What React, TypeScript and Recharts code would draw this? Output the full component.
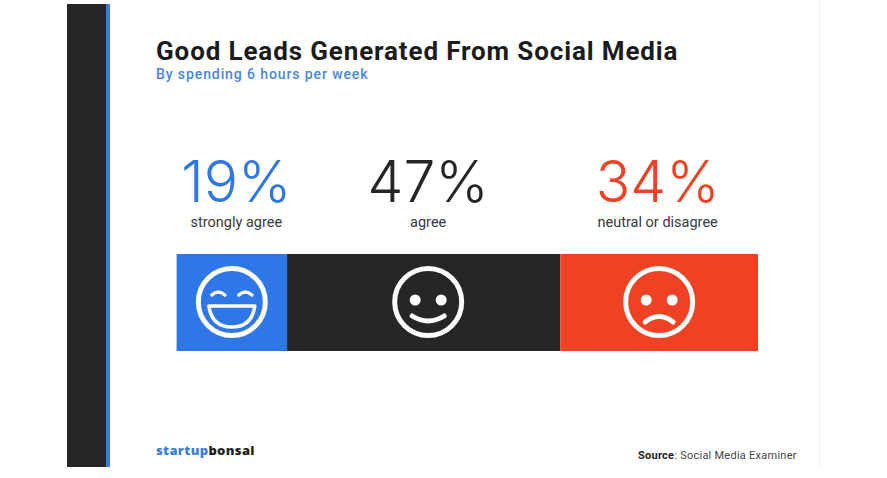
import React from 'react';
import { BarChart, Bar, XAxis, YAxis, LabelList } from 'recharts';

const categories = ['Good leads'];
const seriesKeys = ['strongly', 'agree', 'neutral'];
const seriesNames = ['strongly agree', 'agree', 'neutral or disagree'];
const seriesValues = [19, 47, 34];
const seriesColors = ['#2f77e6', '#262626', '#ef4123'];
const percentColors = ['#2f77e6', '#262626', '#ef4123'];
const moods = ['laugh', 'smile', 'sad'];

// the labels in the picture do not sit quite at the centre of their segment
const labelShift = [4.5, 4.5, -1.5];
const faceShift = [0, 4.5, 0];

const chartData = categories.map(name => {
  const row: Record<string, string | number> = { name };
  seriesKeys.forEach((key, i) => {
    row[key] = seriesValues[i];
  });
  return row;
});

const Face = ({ cx, cy, mood }: { cx: number; cy: number; mood: string }) => (
  <g transform={`translate(${cx},${cy})`} fill="none" stroke="#fbfbfb" strokeWidth={5} strokeLinecap="round">
    <circle r={33.5} />
    {mood === 'laugh' && (
      <>
        <path d="M-20 -7 Q-13.5 -13 -7 -7" strokeWidth={3.5} />
        <path d="M7 -7 Q13.5 -13 20 -7" strokeWidth={3.5} />
        <path d="M-23 4 H23 Q20 25 0 25 Q-20 25 -23 4 Z" strokeWidth={3.5} strokeLinejoin="round" />
      </>
    )}
    {mood !== 'laugh' && (
      <>
        <circle cx={-13} cy={-2} r={5.5} fill="#fbfbfb" stroke="none" />
        <circle cx={13} cy={-2} r={5.5} fill="#fbfbfb" stroke="none" />
      </>
    )}
    {mood === 'smile' && <path d="M-16 14 Q0 24 16 14" />}
    {mood === 'sad' && <path d="M-14 20 Q0 9 14 20" />}
  </g>
);

const makeSegmentLabel = (index: number) => (props: any) => {
  const { x, y, width, height } = props;
  const mid = x + width / 2;
  const textX = mid + labelShift[index];
  return (
    <g>
      <text
        x={textX}
        y={y - 52}
        textAnchor="middle"
        fontFamily="Inter, sans-serif"
        fontWeight={300}
        fontSize={57}
        fill={percentColors[index]}
      >
        {seriesValues[index]}%
      </text>
      <text
        x={textX}
        y={y - 27}
        textAnchor="middle"
        fontFamily="Roboto, sans-serif"
        fontSize={14.5}
        fill="#3a3a3a"
      >
        {seriesNames[index]}
      </text>
      <Face cx={mid + faceShift[index]} cy={y + height / 2 - 0.5} mood={moods[index]} />
    </g>
  );
};

export default function App() {
  return (
    <div style={{ position: 'absolute', left: 0, top: 0, width: 887, height: 478, background: '#fff', overflow: 'hidden' }}>
      <div style={{ position: 'absolute', left: 67, top: 4, width: 39, height: 463, background: '#262626' }} />
      <div style={{ position: 'absolute', left: 106, top: 4, width: 4, height: 463, background: '#3b7dd8' }} />
      <div style={{ position: 'absolute', left: 819, top: 0, width: 1, height: 467, background: '#f0f0f0' }} />
      <div style={{ position: 'absolute', left: 156, top: 36, fontFamily: 'Roboto, sans-serif', fontWeight: 700, fontSize: 26, letterSpacing: 0.87, color: '#1c1c1c', whiteSpace: 'nowrap' }}>
        Good Leads Generated From Social Media
      </div>
      <div style={{ position: 'absolute', left: 156, top: 66, fontFamily: 'Roboto, sans-serif', fontWeight: 500, fontSize: 14, letterSpacing: 0.9, color: '#4a86dc', whiteSpace: 'nowrap' }}>
        By spending 6 hours per week
      </div>
      <BarChart
        style={{ position: 'absolute', left: 0, top: 0 }}
        width={887}
        height={478}
        layout="vertical"
        data={chartData}
        barCategoryGap={0}
        margin={{ top: 254, right: 129, bottom: 127, left: 176.6 }}
      >
        <XAxis type="number" hide domain={[0, 100]} />
        <YAxis type="category" dataKey="name" hide />
        {seriesKeys.map((key, i) => (
          <Bar key={key} dataKey={key} stackId="a" fill={seriesColors[i]} isAnimationActive={false}>
            <LabelList dataKey={key} content={makeSegmentLabel(i)} />
          </Bar>
        ))}
      </BarChart>
      <div style={{ position: 'absolute', left: 156, top: 441, fontFamily: '"Open Sans", sans-serif', fontWeight: 800, fontSize: 13, letterSpacing: 0.35, whiteSpace: 'nowrap', color: '#222' }}>
        <span style={{ color: '#3b7dd8' }}>startup</span>bonsai
      </div>
      <div style={{ position: 'absolute', left: 638, top: 449, fontFamily: 'Roboto, sans-serif', fontSize: 11, letterSpacing: 0.25, color: '#444', whiteSpace: 'nowrap' }}>
        <b style={{ color: '#222' }}>Source</b>: Social Media Examiner
      </div>
    </div>
  );
}
